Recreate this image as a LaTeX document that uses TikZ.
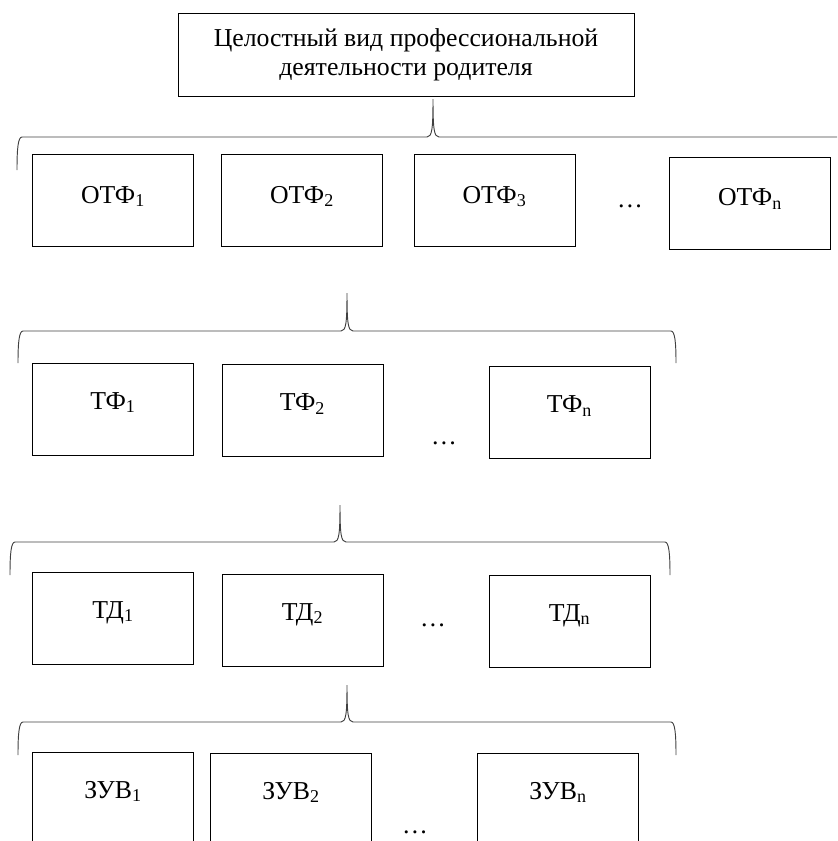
\documentclass[tikz,border=0pt]{standalone}
\usepackage{fontspec}
\setmainfont{Liberation Serif}
\usetikzlibrary{positioning}

% curly brace: tick x, tick top y, line y, left x, right x, end y
\newcommand{\levelbrace}[6]{%
  \draw[brace] (#4,#6) .. controls (#4,#3+12) and (#4+1,#3) .. (#4+5,#3)
    -- (#1-6,#3) .. controls (#1-1,#3) and (#1,#3-8) .. (#1,#2)
    .. controls (#1,#3-8) and (#1+1,#3) .. (#1+6,#3)
    -- (#5-5,#3) .. controls (#5-1,#3) and (#5,#3+12) .. (#5,#6);}

\begin{document}
\begin{tikzpicture}[
    x=0.03cm, y=-0.03cm,
    every node/.style={font=\fontsize{22}{25}\selectfont},
    unit/.style={
        rectangle,
        draw,
        line width=0.8pt,
        inner sep=0pt,
        minimum width=4.83cm,
        minimum height=2.76cm,
        text height=1.6ex,
        text depth=1.6ex
    },
    unitlow/.style={unit, text height=2.1ex, text depth=1.1ex},
    whole/.style={
        rectangle,
        draw,
        line width=0.8pt,
        minimum width=13.68cm,
        minimum height=2.49cm,
        align=center
    },
    brace/.style={line width=0.8pt, color=black!75},
    dots/.style={inner sep=0pt}
]
\useasboundingbox (0,0) rectangle (837,841);
\clip (0,0) rectangle (837,841);

\node[whole] (vid) at (406,54.5) {Целостный вид профессиональной\\деятельности родителя};

% level 1
\levelbrace{433}{99}{137}{17}{849}{170}
\node[unitlow] (otf1) at (113,200.5) {ОТФ\textsubscript{1}};
\node[unitlow] (otf2) at (302,200.5) {ОТФ\textsubscript{2}};
\node[unitlow] (otf3) at (494.5,200.5) {ОТФ\textsubscript{3}};
\node[dots] (otfd) at (630,206) {…};
\node[unitlow] (otfn) at (750,203) {ОТФ\textsubscript{n}};

% level 2
\levelbrace{347}{293}{331}{18}{676}{363}
\node[unit] (tf1) at (113,409) {ТФ\textsubscript{1}};
\node[unit] (tf2) at (302.5,410.5) {ТФ\textsubscript{2}};
\node[dots] (tfd) at (444,443) {…};
\node[unit] (tfn) at (569.5,412.5) {ТФ\textsubscript{n}};

% level 3
\levelbrace{340}{505}{542}{10}{670}{575}
\node[unit] (td1) at (113,618) {ТД\textsubscript{1}};
\node[unit] (td2) at (302.5,620) {ТД\textsubscript{2}};
\node[dots] (tdd) at (433,625) {…};
\node[unit] (tdn) at (569.5,621) {ТД\textsubscript{n}};

% level 4
\levelbrace{347}{685}{722}{18}{676}{755}
\node[unit] (zuv1) at (113,798) {ЗУВ\textsubscript{1}};
\node[unit] (zuv2) at (291,799) {ЗУВ\textsubscript{2}};
\node[dots] (zuvd) at (415,832) {…};
\node[unit] (zuvn) at (558,799) {ЗУВ\textsubscript{n}};

\end{tikzpicture}
\end{document}
